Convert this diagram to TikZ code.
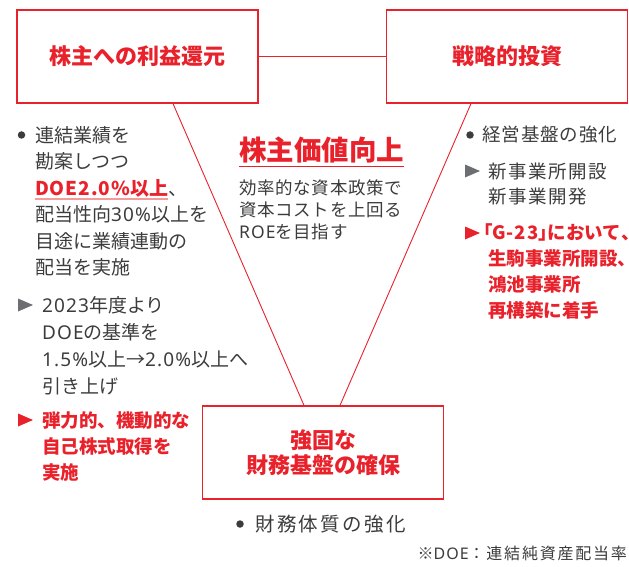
\documentclass[tikz,border=0pt]{standalone}
\usepackage{fontspec}
\setmainfont{Noto Sans CJK JP}
\newfontfamily\latin[LetterSpace=6]{Noto Sans}
\usepackage{xcolor}
\usetikzlibrary{calc}

\definecolor{brandred}{HTML}{E8212B}
\definecolor{inkgray}{HTML}{3C3C3C}
\definecolor{markgray}{HTML}{6D6E71}
\definecolor{linepink}{HTML}{F39A9A}

% pink bar under the key figure
\newcommand{\hilite}[1]{\sbox0{#1}\rlap{\color{linepink}\rule[-5pt]{\wd0}{2.5pt}}\usebox0}
% narrow brackets, wider latin
\newcommand{\kakko}[1]{{\addfontfeature{RawFeature=+palt}#1}}
\newcommand{\spaced}[1]{\addfontfeature{LetterSpace=#1}}
\newcommand{\lat}[1]{{\latin #1}}
\newcommand{\blat}[1]{{\spaced{5}#1}}

\tikzset{
  box/.style={draw=brandred, line width=1.2pt, minimum width=241pt, minimum height=93pt,
    inner sep=0pt, text=brandred, align=center, font=\bfseries\fontsize{22}{25}\selectfont},
  link/.style={brandred, line width=0.9pt},
  body/.style={anchor=base west, inner sep=0pt, align=left, text=inkgray,
    font=\fontsize{19}{26.5}\selectfont},
  redbody/.style={body, text=brandred, font=\bfseries\fontsize{18.5}{26}\selectfont},
  dot/.style={circle, fill=inkgray, inner sep=0pt, minimum size=7.5pt},
  tripic/.pic={\fill (0,-6.5) -- (15,0) -- (0,6.5) -- cycle;}
}

\begin{document}
\begin{tikzpicture}[x=1pt,y=-1pt]
\useasboundingbox (0,0) rectangle (629,567);

% three pillars
\node[box] (lbox) at (137.5,56.5) {株主への利益還元};
\node[box] (rbox) at (507,56.5) {戦略的投資};
\node[box] (bbox) at (323,452.5) {強固な\\財務基盤の確保};

\draw[link] (lbox.east) -- (rbox.west);
\draw[link] ([xshift=35.5pt]lbox.south) -- ([xshift=-19pt]bbox.north);
\draw[link] ([xshift=-36pt]rbox.south) -- ([xshift=17pt]bbox.north);

% centre (multi-line nodes sit on their last baseline)
\node[anchor=base west, inner sep=0pt, text=brandred, font=\bfseries\fontsize{27.5}{30}\selectfont] (goal) at (239,160.5) {株主価値向上};
\draw[brandred, line width=1pt] ([yshift=-6pt]goal.base west) -- ([yshift=-6pt]goal.base east);
\node[body, font=\fontsize{17.5}{22}\selectfont\spaced{4}] (goaltxt) at (239,238) {効率的な資本政策で\\資本コストを上回る\\\lat{ROE}を目指す};

% left column
\node[dot] (ldot) at (21.5,135) {};
\node[body] (lpay) at (35,274.5) {連結業績を\\勘案しつつ\\\hilite{\textcolor{brandred}{\bfseries\blat{DOE2.0\%}以上}}、\\配当性向\lat{30\%}以上を\\目途に業績連動の\\配当を実施};
\pic[markgray] at (18,305) {tripic};
\node[body, font=\fontsize{19}{27}\selectfont] (ldoe) at (42,393) {\lat{2023}年度より\\\lat{DOE}の基準を\\\lat{1.5\%}以上→\lat{2.0\%}以上へ\\引き上げ};
\pic[brandred] at (18,420) {tripic};
\node[redbody] (lbuy) at (42,479) {弾力的、機動的な\\自己株式取得を\\実施};

% right column
\node[dot] (rdot) at (470,135) {};
\node[body, font=\fontsize{18.5}{25}\selectfont\spaced{5}] (rbase) at (482,142) {経営基盤の強化};
\pic[markgray] at (465,171) {tripic};
\node[body, font=\fontsize{18.5}{25}\selectfont\spaced{8}] (rnew) at (488,203) {新事業所開設\\新事業開発};
\pic[brandred] at (465,233) {tripic};
\node[redbody, font=\bfseries\fontsize{18.5}{25.7}\selectfont] (rg23) at (483,317) {\kakko{「}\blat{G-23}\kakko{」}において\kakko{、}\\\hspace{5pt}生駒事業所開設\kakko{、}\\\hspace{5pt}鴻池事業所\\\hspace{5pt}再構築に着手};

% bottom
\node[dot] (bdot) at (240,524) {};
\node[body, font=\fontsize{19.5}{24}\selectfont\spaced{12}] (bfin) at (255,531) {財務体質の強化};
\node[body, anchor=base east, font=\fontsize{16}{20}\selectfont\spaced{11}] (note) at (627,559) {※\lat{DOE}：連結純資産配当率};
\end{tikzpicture}
\end{document}
